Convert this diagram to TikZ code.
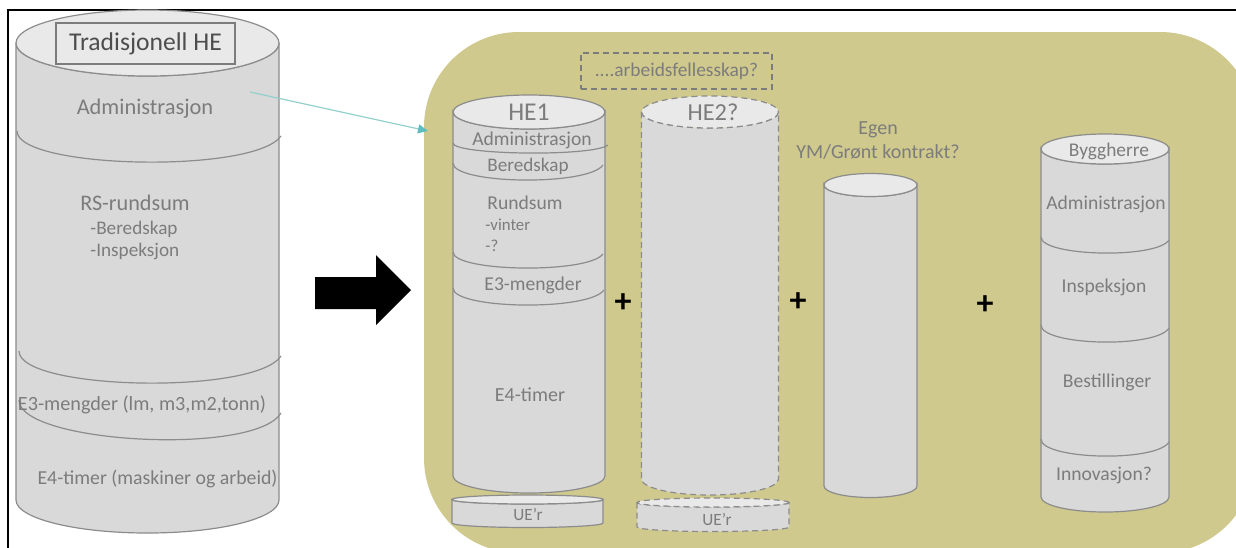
\documentclass[tikz,border=0pt]{standalone}
\usepackage{fontspec}
\setmainfont{Carlito}
\usetikzlibrary{arrows.meta}

\definecolor{cylfill}{HTML}{D9D9D9}
\definecolor{cyltopfill}{HTML}{E9E9E9}
\definecolor{cylline}{HTML}{8C8C8C}
\definecolor{txtgray}{HTML}{7C7C7C}
\definecolor{titlegray}{HTML}{4D4D4D}
\definecolor{olivebg}{HTML}{CFC98D}
\definecolor{tealline}{HTML}{93D0CC}
\definecolor{tealtip}{HTML}{5EBDBF}

\tikzset{
  cyl/.style={fill=cylfill, draw=cylline, line width=0.6pt},
  cyltop/.style={fill=cyltopfill, draw=cylline, line width=0.6pt},
  dashedcyl/.style={dash pattern=on 3pt off 2pt},
  divider/.style={draw=cylline, line width=0.6pt},
  lbl/.style={text=txtgray, inner sep=0pt},
  plussign/.style={inner sep=0pt, text=black, font=\fontsize{17}{17}\selectfont\bfseries},
}

% vertical cylinder: [extra style]{centre x}{x radius}{top y}{bottom y}{y radius}
\newcommand\drawcyl[6][]{%
  \path[cyl,#1] ({#2-#3},#4) -- ({#2-#3},#5)
      arc[start angle=180, end angle=0, x radius=#3, y radius=#6]
      -- ({#2+#3},#4)
      arc[start angle=0, end angle=180, x radius=#3, y radius=#6] -- cycle;
  \path[cyltop,#1] (#2,#4) ellipse[x radius=#3, y radius=#6];
}
% sagging section line: {xL}{yL}{xR}{yR}{lowest y}
\newcommand\divarc[5]{%
  \pgfmathsetmacro\dvh{(#5-(#2+#4)/2)/0.75}%
  \draw[divider] (#1,#2) .. controls (#1,{#2+\dvh}) and ({#3-0.1*(#3-#1)},{#4+\dvh}) .. (#3,#4);
}

\begin{document}
\begin{tikzpicture}[x=0.5pt, y=-0.5pt]
\useasboundingbox (0,0) rectangle (1236,547);
\clip (0,0) rectangle (1236,547);

% olive panel on the right
\fill[olivebg, rounded corners=47.5pt] (424,32) rectangle (1255,553);

% frame
\draw[black, line width=1pt] (8,548) -- (8,10) -- (1237,10);

% ---------- traditional contract ----------
\drawcyl{147.5}{131.5}{43}{500}{33}
\divarc{17}{131}{281}{136}{162}
\divarc{19}{351}{281}{356}{383}
\divarc{19}{400}{281}{413}{439}

\node[draw=txtgray, line width=0.6pt, fill=cyltopfill, minimum width=89.5pt, minimum height=20.5pt,
      inner sep=0pt, text=titlegray, font=\fontsize{12.8}{15}\selectfont] (tradhe) at (145.5,43.5) {Tradisjonell HE};
\node[lbl, font=\fontsize{11.2}{13}\selectfont] (ladmin) at (145,109) {Administrasjon};
\node[lbl, font=\fontsize{11.1}{13}\selectfont] (lrs) at (135,203) {RS-rundsum};
\node[lbl, anchor=west, align=left, font=\fontsize{9.6}{11}\selectfont] (lrssub) at (90,240) {-Beredskap\\-Inspeksjon};
\node[lbl, font=\fontsize{10.1}{12}\selectfont] (le3) at (142,405) {E3-mengder (lm, m3,m2,tonn)};
\node[lbl, font=\fontsize{9.9}{12}\selectfont] (le4) at (157.5,479) {E4-timer (maskiner og arbeid)};

% big arrow
\fill[black] (315,277) -- (376,277) -- (376,255) -- (411,290) -- (376,325) -- (376,309) -- (315,309) -- cycle;

% ---------- HE1 ----------
\drawcyl{529}{76}{112}{476}{17}
\divarc{453}{143}{608}{145}{153}
\divarc{453}{163}{603}{165}{180}
\divarc{453}{252}{603}{254}{268}
\divarc{453}{288}{604}{290}{305}
\node[lbl, font=\fontsize{12.8}{14}\selectfont] (he1) at (529,112) {HE1};
\node[lbl, font=\fontsize{9.8}{12}\selectfont] (he1admin) at (532,140) {Administrasjon};
\node[lbl, font=\fontsize{9.6}{12}\selectfont] (he1bered) at (528,166) {Beredskap};
\node[lbl, anchor=west, font=\fontsize{9.8}{12}\selectfont] (he1rund) at (487,203) {Rundsum};
\node[lbl, anchor=west, align=left, font=\fontsize{8.4}{10.5}\selectfont] (he1rundsub) at (485,235.5) {-vinter\\-?};
\node[lbl, font=\fontsize{9.8}{12}\selectfont] (he1e3) at (533,285) {E3-mengder};
\node[lbl, font=\fontsize{10}{12}\selectfont] (he1e4) at (530,395) {E4-timer};

\drawcyl{527.5}{75.5}{499.5}{523}{4.5}
\node[lbl, font=\fontsize{8.6}{10}\selectfont] (he1ue) at (528,514) {UE’r};

% ---------- HE2 ----------
\node[draw=txtgray, dashedcyl, line width=0.6pt, minimum width=95.5pt, minimum height=18pt, inner sep=0pt,
      text=txtgray, font=\fontsize{9.7}{12}\selectfont] (felles) at (676.5,71) {....arbeidsfellesskap?};
\drawcyl[dashedcyl]{710}{68.5}{112}{479}{16}
\node[lbl, font=\fontsize{12.2}{14}\selectfont] (he2) at (713,112) {HE2?};
\drawcyl[dashedcyl]{713}{76}{502.5}{527}{4.5}
\node[lbl, font=\fontsize{8.6}{10}\selectfont] (he2ue) at (717,519) {UE’r};

% ---------- own green-area contract ----------
\node[lbl, align=center, font=\fontsize{10}{12}\selectfont] (egen) at (878,141) {Egen\\YM/Grønt kontrakt?};
\drawcyl{870.5}{46.5}{185}{486}{11.5}

% ---------- client ----------
\drawcyl{1105}{64}{149}{497}{15}
\divarc{1041}{237}{1169}{240}{253}
\divarc{1041}{325}{1169}{328}{342}
\divarc{1041}{439}{1169}{442}{456}
\node[lbl, font=\fontsize{9.7}{12}\selectfont] (bygg) at (1109,151) {Byggherre};
\node[lbl, font=\fontsize{9.8}{12}\selectfont] (byadmin) at (1106,204) {Administrasjon};
\node[lbl, font=\fontsize{9.8}{12}\selectfont] (byinsp) at (1104,287) {Inspeksjon};
\node[lbl, font=\fontsize{9.8}{12}\selectfont] (bybest) at (1107,382) {Bestillinger};
\node[lbl, font=\fontsize{9.8}{12}\selectfont] (byinnov) at (1104,475) {Innovasjon?};

% plus signs
\node[plussign] (plusa) at (623,303) {+};
\node[plussign] (plusb) at (798,302) {+};
\node[plussign] (plusc) at (985,305) {+};

% link from administration to the new structure
\coordinate (adminlink) at (250,92);
\coordinate (panellink) at (428,131);
\draw[tealline, line width=0.6pt, -{Triangle[length=5pt, width=4.5pt, color=tealtip, fill=tealtip]}] (adminlink) -- (panellink);
\end{tikzpicture}
\end{document}
